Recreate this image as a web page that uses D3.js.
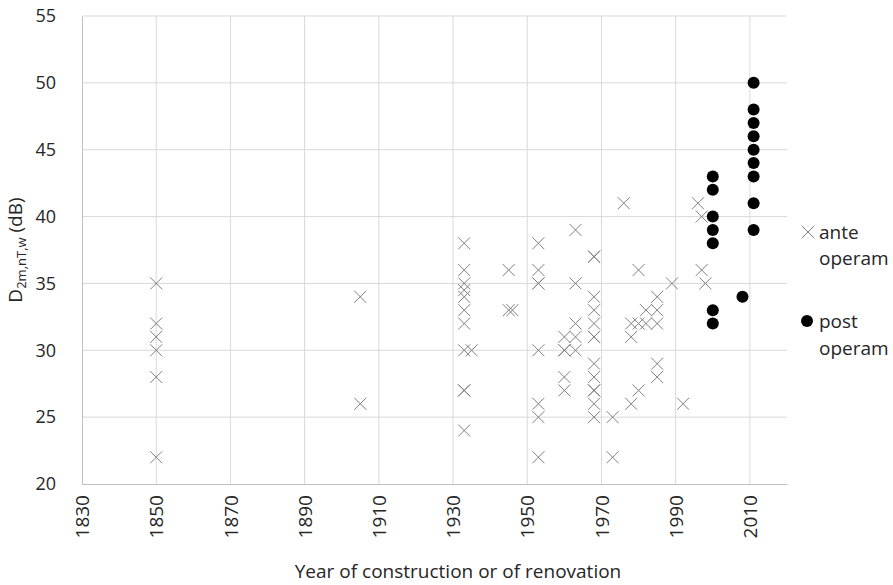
<!DOCTYPE html>
<html>
<head>
<meta charset="utf-8">
<script src="https://cdn.jsdelivr.net/npm/d3@7"></script>
<style>
  body { margin: 0; background: #fff; }
  text { font-family: "Open Sans", Lato, sans-serif; fill: #262626; }
</style>
</head>
<body>
<div id="container"></div>
<script>
// ante operam points (year, dB)
var anteYear = [1850, 1850, 1850, 1850, 1850, 1850,
  1905, 1905,
  1933, 1933, 1933, 1933, 1933, 1933, 1933, 1933, 1933, 1933, 1933,
  1935, 1945, 1945, 1946,
  1953, 1953, 1953, 1953, 1953, 1953, 1953, 1953,
  1960, 1960, 1960, 1960, 1960,
  1963, 1963, 1963, 1963, 1963,
  1968, 1968, 1968, 1968, 1968, 1968, 1968, 1968, 1968, 1968, 1968, 1968, 1968,
  1973, 1973, 1976, 1978, 1978, 1978,
  1980, 1980, 1980, 1982, 1982,
  1985, 1985, 1985, 1985, 1985,
  1989, 1992, 1996, 1997, 1997, 1998];
var anteDb = [35, 32, 31, 30, 28, 22,
  34, 26,
  38, 36, 35, 34.5, 34, 33, 32, 30, 27, 27, 24,
  30, 36, 33, 33,
  38, 36, 35, 35, 30, 26, 25, 22,
  31, 30, 30, 28, 27,
  39, 35, 32, 31, 30,
  37, 37, 34, 33, 32, 31, 31, 29, 28, 27, 27, 26, 25,
  25, 22, 41, 32, 31, 26,
  36, 32, 27, 33, 32,
  34, 33, 32, 29, 28,
  35, 26, 41, 40, 36, 35];

// post operam points
var postYear = [2000, 2000, 2000, 2000, 2000, 2000, 2000,
  2008,
  2011, 2011, 2011, 2011, 2011, 2011, 2011, 2011, 2011];
var postDb = [43, 42, 40, 39, 38, 33, 32,
  34,
  50, 48, 47, 46, 45, 44, 43, 41, 39];

var xTicks = [1830, 1850, 1870, 1890, 1910, 1930, 1950, 1970, 1990, 2010];
var yTicks = [20, 25, 30, 35, 40, 45, 50, 55];

var width = 893, height = 585;

var svg = d3.select("#container")
  .append("svg")
  .attr("width", width)
  .attr("height", height);

// Set the ranges
var x = d3.scaleLinear().domain([1830, 2020]).range([82, 787]);
var y = d3.scaleLinear().domain([20, 55]).range([484, 16]);

// grid lines
svg.append("g").selectAll("line")
  .data(yTicks.slice(1))
  .enter().append("line")
  .attr("x1", x(1830)).attr("x2", x(2020))
  .attr("y1", function (d) { return y(d); })
  .attr("y2", function (d) { return y(d); })
  .attr("stroke", "#d9d9d9").attr("stroke-width", 1);

svg.append("g").selectAll("line")
  .data(xTicks.slice(1))
  .enter().append("line")
  .attr("x1", function (d) { return x(d); })
  .attr("x2", function (d) { return x(d); })
  .attr("y1", y(55)).attr("y2", y(20))
  .attr("stroke", "#d9d9d9").attr("stroke-width", 1);

// Add the X Axis
var xAxis = d3.axisBottom(x).tickValues(xTicks).tickSize(0).tickFormat(d3.format("d"));
var gx = svg.append("g")
  .attr("transform", "translate(0," + y(20) + ")")
  .call(xAxis);
gx.select(".domain").attr("stroke", "#bfbfbf");
gx.selectAll("text")
  .attr("font-size", 19)
  .attr("transform", "rotate(-90)")
  .attr("text-anchor", "end")
  .attr("x", -11)
  .attr("y", 0)
  .attr("dy", "0.35em");

// Add the Y Axis
var yAxis = d3.axisLeft(y).tickValues(yTicks).tickSize(0);
var gy = svg.append("g")
  .attr("transform", "translate(" + x(1830) + ",0)")
  .call(yAxis);
gy.select(".domain").attr("stroke", "#bfbfbf");
gy.selectAll("text").attr("font-size", 18).attr("x", -26);

// ante operam crosses
var s = 6;
svg.append("g").selectAll("path")
  .data(anteYear.map(function (d, i) { return [d, anteDb[i]]; }))
  .enter().append("path")
  .attr("d", function (d) {
    var cx = x(d[0]), cy = y(d[1]);
    return "M" + (cx - s) + "," + (cy - s) + "L" + (cx + s) + "," + (cy + s) +
      "M" + (cx - s) + "," + (cy + s) + "L" + (cx + s) + "," + (cy - s);
  })
  .attr("stroke", "#7f7f7f")
  .attr("stroke-width", 1)
  .attr("fill", "none");

// post operam dots
svg.append("g").selectAll("circle")
  .data(postYear.map(function (d, i) { return [d, postDb[i]]; }))
  .enter().append("circle")
  .attr("cx", function (d) { return x(d[0]); })
  .attr("cy", function (d) { return y(d[1]); })
  .attr("r", 6)
  .attr("fill", "#000");

// axis titles
svg.append("text")
  .attr("x", 458).attr("y", 578)
  .attr("text-anchor", "middle")
  .attr("font-size", 19)
  .text("Year of construction or of renovation");

var yt = svg.append("text")
  .attr("transform", "translate(22,250) rotate(-90)")
  .attr("text-anchor", "middle")
  .attr("font-size", 19);
yt.append("tspan").text("D");
yt.append("tspan").attr("font-size", 13).attr("dy", 4).text("2m,nT,w");
yt.append("tspan").attr("dy", -4).text(" (dB)");

// legend
var lg = svg.append("g");
lg.append("path")
  .attr("d", "M802,226L814,238M802,238L814,226")
  .attr("stroke", "#7f7f7f").attr("fill", "none");
lg.append("text").attr("x", 819).attr("y", 239).attr("font-size", 19).text("ante");
lg.append("text").attr("x", 819).attr("y", 265).attr("font-size", 19).text("operam");
lg.append("circle").attr("cx", 807).attr("cy", 321).attr("r", 6).attr("fill", "#000");
lg.append("text").attr("x", 819).attr("y", 328).attr("font-size", 19).text("post");
lg.append("text").attr("x", 819).attr("y", 355).attr("font-size", 19).text("operam");
</script>
</body>
</html>
